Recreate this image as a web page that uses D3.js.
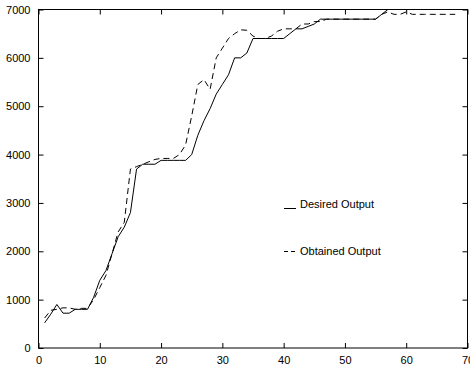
<!DOCTYPE html>
<html>
<head>
<meta charset="utf-8">
<script src="https://cdn.jsdelivr.net/npm/d3@7"></script>
<style>
  body { margin: 0; background: #fff; }
  svg { display: block; font-family: "Liberation Sans", Arial, Helvetica, sans-serif; }
</style>
</head>
<body>
<svg width="470" height="367"></svg>
<script>
// desired / obtained output, one value per step (step = index + 1)
var desired = [520, 700, 900, 720, 720, 800, 800, 800, 1050, 1400,
  1600, 1950, 2300, 2500, 2800, 3700, 3800, 3800, 3800, 3880,
  3880, 3880, 3880, 3880, 4000, 4400, 4700, 4950, 5250, 5450,
  5650, 6000, 6000, 6100, 6400, 6400, 6400, 6400, 6400, 6400,
  6500, 6600, 6600, 6650, 6700, 6800, 6800, 6800, 6800, 6800,
  6800, 6800, 6800, 6800, 6800, 6900, 7000, 7000, 7000, 7000,
  7000, 7000, 7000, 7000, 7000, 7000, 7000, 7000];
var obtained = [620, 780, 800, 830, 830, 800, 820, 820, 1000, 1250,
  1500, 1950, 2400, 2600, 3700, 3750, 3800, 3850, 3900, 3920,
  3920, 3920, 4000, 4200, 4800, 5450, 5550, 5350, 6000, 6200,
  6400, 6500, 6580, 6570, 6450, 6400, 6400, 6450, 6550, 6600,
  6600, 6600, 6700, 6700, 6750, 6750, 6800, 6800, 6800, 6800,
  6800, 6800, 6800, 6800, 6800, 6900, 6950, 6900, 6900, 6950,
  6900, 6900, 6900, 6900, 6900, 6900, 6900, 6900];
var xTicks = [0, 10, 20, 30, 40, 50, 60, 70];
var yTicks = [0, 1000, 2000, 3000, 4000, 5000, 6000, 7000];
var seriesNames = ["Desired Output", "Obtained Output"];

var svg = d3.select("svg");
var plotL = 38.5, plotR = 467.5, plotT = 9.5, plotB = 348;

var x = d3.scaleLinear().domain([0, 70]).range([plotL, plotR]);
var y = d3.scaleLinear().domain([0, 7000]).range([plotB, plotT]);

svg.append("defs").append("clipPath").attr("id", "plot")
  .append("rect")
  .attr("x", plotL).attr("y", plotT)
  .attr("width", plotR - plotL).attr("height", plotB - plotT);

var line = d3.line()
  .x(function(d, i) { return x(i + 1); })
  .y(function(d) { return y(d); });

var lines = svg.append("g").attr("clip-path", "url(#plot)");
lines.append("path")
  .datum(desired)
  .attr("d", line)
  .attr("fill", "none")
  .attr("stroke", "#000")
  .attr("stroke-width", 1);
lines.append("path")
  .datum(obtained)
  .attr("d", line)
  .attr("fill", "none")
  .attr("stroke", "#000")
  .attr("stroke-width", 1)
  .attr("stroke-dasharray", "6,4");

// axes, matlab style: ticks pointing inward on all four sides
function styleAxis(g) {
  g.select(".domain").remove();
  g.selectAll("line").attr("stroke", "#000");
  g.selectAll("text").attr("fill", "#000").attr("font-size", 11);
}

svg.append("g")
  .attr("transform", "translate(0," + plotB + ")")
  .call(d3.axisBottom(x).tickValues(xTicks).tickSize(-5).tickPadding(8).tickFormat(d3.format("d")))
  .call(styleAxis);
svg.append("g")
  .attr("transform", "translate(0," + plotT + ")")
  .call(d3.axisTop(x).tickValues(xTicks).tickSize(-5).tickFormat(""))
  .call(styleAxis);
svg.append("g")
  .attr("transform", "translate(" + plotL + ",0)")
  .call(d3.axisLeft(y).tickValues(yTicks).tickSize(-5).tickPadding(8).tickFormat(d3.format("d")))
  .call(styleAxis);
svg.append("g")
  .attr("transform", "translate(" + plotR + ",0)")
  .call(d3.axisRight(y).tickValues(yTicks).tickSize(-5).tickFormat(""))
  .call(styleAxis);

svg.append("rect")
  .attr("x", plotL).attr("y", plotT)
  .attr("width", plotR - plotL).attr("height", plotB - plotT)
  .attr("fill", "none")
  .attr("stroke", "#000")
  .attr("stroke-width", 1);

// legend (no box)
var legend = svg.append("g");
legend.append("line")
  .attr("x1", 284).attr("x2", 296).attr("y1", 208.5).attr("y2", 208.5)
  .attr("stroke", "#000");
legend.append("line")
  .attr("x1", 284).attr("x2", 296).attr("y1", 251.5).attr("y2", 251.5)
  .attr("stroke", "#000").attr("stroke-dasharray", "4,3");
legend.selectAll("text")
  .data(seriesNames)
  .enter().append("text")
  .attr("x", 300)
  .attr("y", function(d, i) { return i === 0 ? 208 : 255; })
  .attr("font-size", 11)
  .attr("fill", "#000")
  .text(function(d) { return d; });
</script>
</body>
</html>
